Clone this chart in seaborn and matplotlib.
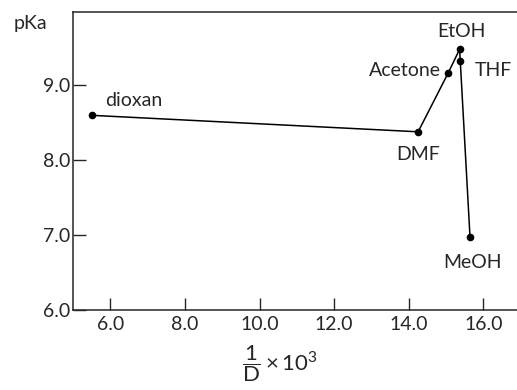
import numpy as np
import pandas as pd
import seaborn as sns
import matplotlib.pyplot as plt

# data
solvents = ["dioxan", "DMF", "Acetone", "EtOH", "THF", "MeOH"]
inv_d = [5.5, 14.25, 15.05, 15.36, 15.38, 15.64]   # 1/D x 10^3
pka = [8.6, 8.38, 9.16, 9.48, 9.32, 6.98]
x_ticks = [6.0, 8.0, 10.0, 12.0, 14.0, 16.0]
y_ticks = [6.0, 7.0, 8.0, 9.0]

df = pd.DataFrame({"solvent": solvents, "x": inv_d, "pKa": pka})

sns.set_style("ticks")
plt.rcParams['font.family'] = ['Lato', 'DejaVu Sans']
plt.rcParams['mathtext.fontset'] = 'custom'
plt.rcParams['mathtext.rm'] = 'Lato'
plt.rcParams['mathtext.it'] = 'Lato'

fig = plt.figure(figsize=(5.17, 3.9), dpi=100)
ax = fig.add_axes([73/517, 80/390, 1 - 73/517, (310 - 12)/390])

sns.lineplot(data=df, x="x", y="pKa", sort=False, color="black", lw=1.1,
             marker="o", markersize=5.5, markeredgewidth=0, ax=ax)

# label positions (pixel offsets from each point)
offsets = {"dioxan": (13, 15, "left"), "DMF": (0, -23, "center"),
           "Acetone": (-7, 3, "right"), "EtOH": (2, 18, "center"),
           "THF": (14, -9, "left"), "MeOH": (3, -26, "center")}
for s, xv, yv in zip(solvents, inv_d, pka):
    dx, dy, ha = offsets[s]
    ax.annotate(s, (xv, yv), xytext=(dx, dy), textcoords="offset pixels",
                ha=ha, va="center", fontsize=14)

ax.set_xlim(5.0, 16.9)
ax.set_ylim(6.0, 9.98)
ax.set_xticks(x_ticks)
ax.set_xticklabels([f"{t:.1f}" for t in x_ticks])
ax.set_yticks(y_ticks)
ax.set_yticklabels([f"{t:.1f}" for t in y_ticks])
ax.tick_params(direction="in", length=9, width=1, labelsize=14, pad=4)
ax.tick_params(axis="y", pad=2)

ax.spines["right"].set_visible(False)
for sp in ["left", "bottom", "top"]:
    ax.spines[sp].set_linewidth(1.1)

ax.set_xlabel(r"$\dfrac{1}{\mathrm{D}}\times10^3$", fontsize=16)
ax.xaxis.set_label_coords((280 - 73) / (517 - 73), -0.11)
ax.xaxis.label.set_va("top")
ax.set_ylabel("")
fig.text(14/517, 1 - 24/390, "pKa", fontsize=14, va="center")

fig.savefig("out.png", dpi=100)
